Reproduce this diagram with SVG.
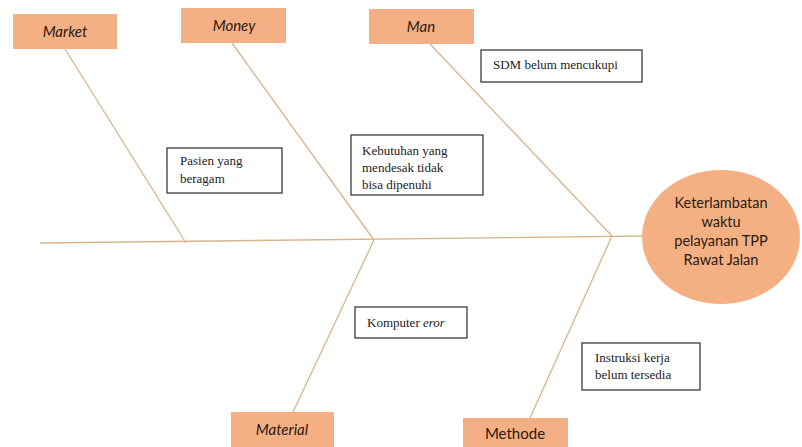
<svg xmlns="http://www.w3.org/2000/svg" width="802" height="447" viewBox="0 0 802 447">
<style>
.cat{fill:#F4AF84;}
.cl{font-family:Lato,"Open Sans","Liberation Sans",sans-serif;font-size:15px;fill:#2a1a12;text-anchor:middle;}
.it{font-style:italic;}
.box{fill:#ffffff;stroke:#2a2a2a;stroke-width:1.2;}
.bt{font-family:"Liberation Serif","Times New Roman",serif;font-size:13px;fill:#222;}
.bone{stroke:#D8B48E;stroke-width:1.3;fill:none;}
.head{fill:#F4B083;}
.ht{font-family:Lato,"Open Sans","Liberation Sans",sans-serif;font-size:14.5px;fill:#2a1a12;text-anchor:middle;}
</style>
<rect width="802" height="447" fill="#ffffff"/>
<g id="connectors">
<line class="bone" x1="40" y1="243" x2="644" y2="236"/>
<line class="bone" x1="65" y1="49" x2="186" y2="243"/>
<line class="bone" x1="232" y1="43" x2="374" y2="240"/>
<line class="bone" x1="430" y1="44" x2="612" y2="236"/>
<line class="bone" x1="374" y1="240" x2="293" y2="412"/>
<line class="bone" x1="612" y1="236" x2="530" y2="418"/>
</g>
<g id="head">
<ellipse class="head" cx="721" cy="237" rx="79" ry="67"/>
<text class="ht" x="721" y="208">Keterlambatan</text>
<text class="ht" x="721" y="227">waktu</text>
<text class="ht" x="721" y="246">pelayanan TPP</text>
<text class="ht" x="721" y="265">Rawat Jalan</text>
</g>
<g id="market">
<rect class="cat" x="13" y="14" width="104" height="35"/>
<text class="cl it" x="65" y="37">Market</text>
</g>
<g id="money">
<rect class="cat" x="181" y="8" width="105" height="35"/>
<text class="cl it" x="234" y="31">Money</text>
</g>
<g id="man">
<rect class="cat" x="369" y="9" width="105" height="35"/>
<text class="cl it" x="421" y="32">Man</text>
</g>
<g id="material">
<rect class="cat" x="231" y="412" width="103" height="40"/>
<text class="cl it" x="282" y="435">Material</text>
</g>
<g id="methode">
<rect class="cat" x="463" y="418" width="105" height="40"/>
<text class="cl" x="515" y="439">Methode</text>
</g>
<g id="cause-sdm">
<rect class="box" x="481" y="50" width="161" height="32"/>
<text class="bt" x="493" y="69">SDM belum mencukupi</text>
</g>
<g id="cause-pasien">
<rect class="box" x="167" y="148" width="115" height="45"/>
<text class="bt" x="180" y="165">Pasien yang</text>
<text class="bt" x="180" y="183">beragam</text>
</g>
<g id="cause-kebutuhan">
<rect class="box" x="351" y="135" width="132" height="60"/>
<text class="bt" x="362" y="155">Kebutuhan yang</text>
<text class="bt" x="362" y="172">mendesak tidak</text>
<text class="bt" x="362" y="189">bisa dipenuhi</text>
</g>
<g id="cause-komputer">
<rect class="box" x="355" y="307" width="112" height="31"/>
<text class="bt" x="367" y="327">Komputer <tspan font-style="italic">eror</tspan></text>
</g>
<g id="cause-instruksi">
<rect class="box" x="582" y="343" width="118" height="47"/>
<text class="bt" x="595" y="362">Instruksi kerja</text>
<text class="bt" x="595" y="379">belum tersedia</text>
</g>
</svg>
